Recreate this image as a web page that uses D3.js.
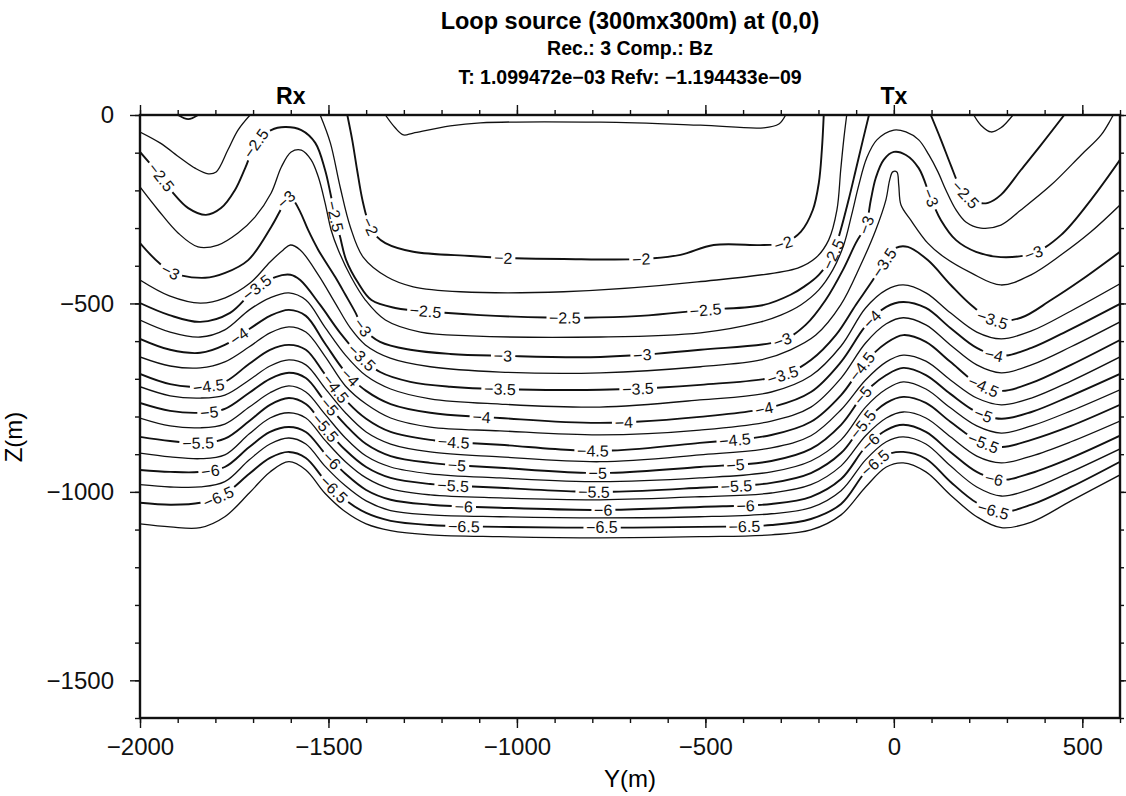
<!DOCTYPE html>
<html>
<head>
<meta charset="utf-8">
<script src="https://cdn.jsdelivr.net/npm/d3@7"></script>
<style>
  body { margin: 0; background: #fff; }
  svg { font-family: "Liberation Sans", Arial, Helvetica, sans-serif; }
</style>
</head>
<body>
<svg id="chart" width="1126" height="796"></svg>
<script>
// ---- contour traces, [Y (m), Z (m)] read off the section ----
// upper levels bend back on themselves, so they are traced point by point
const c175 = [[-1349,0],[-1323,-34],[-1301,-53],[-1275,-48],[-1177,-29],[-1097,-21],[-778,-19],[-513,-27],[-345,-34],[-305,-24],[-287,0]];
const c200 = [[-1450,0],[-1437,-66],[-1424,-146],[-1410,-225],[-1394,-284],[-1376,-318],[-1349,-340],[-1275,-363],[-1123,-374],[-1038,-379],[-876,-382],[-672,-382],[-566,-371],[-478,-345],[-345,-345],[-292,-340],[-247,-310],[-215,-252],[-199,-180],[-191,-93],[-186,0]];
const c200b = [[-1899,0],[-1872,-11],[-1846,0]];
const c225a = [[-2000,-45],[-1947,-74],[-1893,-114],[-1854,-141],[-1819,-156],[-1798,-151],[-1767,-93],[-1740,-40],[-1708,0]];
const c225b = [[-1522,0],[-1495,-74],[-1469,-191],[-1442,-297],[-1408,-377],[-1344,-430],[-1275,-456],[-1150,-469],[-876,-469],[-521,-443],[-255,-406],[-207,-379],[-173,-332],[-151,-252],[-141,-146],[-133,-66],[-125,0]];
const c225c = [[212,0],[231,-27],[258,-45],[284,-34],[316,0]];
const c250a = [[-2000,-98],[-1944,-164],[-1912,-207],[-1872,-247],[-1825,-265],[-1785,-247],[-1748,-199],[-1721,-141],[-1692,-74],[-1652,-40],[-1615,-32],[-1572,-40],[-1535,-74],[-1509,-146],[-1495,-207],[-1482,-271],[-1469,-324],[-1453,-385],[-1421,-446],[-1386,-491],[-1323,-512],[-1248,-520],[-1097,-531],[-871,-538],[-672,-533],[-499,-517],[-345,-504],[-274,-477],[-239,-456],[-199,-424],[-162,-371],[-141,-305],[-120,-225],[-101,-146],[-82,-66],[-66,0]];
const c250b = [[98,0],[125,-66],[151,-133],[173,-186],[191,-212],[218,-231],[250,-233],[284,-212],[337,-146],[390,-80],[452,0]];
const c275 = [[-2000,-191],[-1952,-252],[-1899,-313],[-1846,-350],[-1793,-345],[-1740,-313],[-1695,-271],[-1652,-207],[-1625,-138],[-1599,-98],[-1572,-93],[-1546,-119],[-1527,-164],[-1509,-233],[-1493,-305],[-1474,-358],[-1440,-430],[-1402,-491],[-1349,-544],[-1256,-576],[-1123,-586],[-778,-589],[-513,-578],[-353,-549],[-300,-531],[-247,-504],[-199,-464],[-162,-411],[-133,-345],[-112,-265],[-93,-186],[-72,-114],[-45,-66],[0,-40],[32,-45],[66,-66],[93,-106],[117,-151],[138,-199],[165,-252],[191,-284],[231,-300],[284,-292],[337,-252],[417,-186],[497,-106],[550,-53],[582,0]];
const c300 = [[-2000,-340],[-1918,-416],[-1827,-432],[-1774,-419],[-1713,-385],[-1652,-297],[-1620,-239],[-1607,-218],[-1594,-225],[-1575,-257],[-1554,-305],[-1527,-358],[-1482,-430],[-1455,-477],[-1429,-523],[-1408,-565],[-1363,-602],[-1283,-623],[-1177,-634],[-1038,-639],[-778,-642],[-513,-623],[-295,-597],[-234,-557],[-181,-491],[-135,-411],[-101,-340],[-74,-292],[-61,-225],[-48,-167],[-27,-119],[0,-98],[32,-106],[66,-141],[98,-220],[125,-279],[165,-332],[218,-363],[284,-377],[372,-366],[444,-318],[523,-225],[600,-119]];
const c325 = [[-2000,-438],[-1922,-480],[-1840,-499],[-1774,-485],[-1708,-446],[-1655,-390],[-1620,-358],[-1601,-345],[-1575,-358],[-1527,-424],[-1482,-499],[-1442,-565],[-1402,-610],[-1336,-645],[-1230,-668],[-1044,-682],[-778,-684],[-513,-668],[-353,-650],[-274,-623],[-207,-584],[-141,-504],[-88,-398],[-48,-305],[-21,-225],[-11,-172],[-3,-151],[8,-151],[13,-186],[19,-239],[45,-279],[90,-340],[133,-377],[205,-419],[284,-451],[364,-424],[444,-371],[523,-310],[600,-239]];
const c350 = [[-2000,-499],[-1922,-531],[-1840,-549],[-1761,-525],[-1692,-459],[-1641,-430],[-1601,-424],[-1575,-438],[-1522,-504],[-1469,-578],[-1413,-642],[-1363,-682],[-1283,-708],[-1177,-721],[-1044,-727],[-778,-729],[-513,-716],[-295,-690],[-220,-650],[-154,-584],[-101,-504],[-61,-446],[-27,-393],[5,-353],[37,-350],[90,-385],[151,-451],[205,-504],[266,-544],[337,-538],[417,-491],[497,-438],[600,-363]];

// deeper levels are single valued in Y: depth of each level at these Y columns
const yCols = [-2000,-1920,-1840,-1775,-1710,-1655,-1605,-1560,-1510,-1455,-1400,-1335,-1230,-1045,-780,-515,-325,-220,-140,-75,-20,25,85,150,220,285,365,470,600];
const z375 = [-544,-576,-589,-570,-517,-485,-472,-491,-562,-637,-692,-727,-753,-767,-775,-756,-735,-692,-613,-512,-464,-451,-472,-525,-576,-594,-573,-520,-448];
const z400 = [-594,-623,-631,-610,-568,-533,-517,-533,-605,-682,-732,-767,-790,-804,-817,-801,-775,-735,-655,-560,-509,-496,-512,-565,-618,-639,-618,-568,-501];
const z425 = [-642,-666,-671,-655,-615,-578,-562,-576,-639,-719,-767,-804,-828,-838,-849,-836,-812,-775,-698,-605,-554,-538,-557,-610,-663,-684,-663,-615,-549];
const z450 = [-687,-714,-721,-708,-660,-623,-610,-623,-687,-756,-806,-841,-862,-875,-891,-870,-849,-814,-743,-655,-605,-584,-602,-655,-711,-732,-711,-663,-597];
const z475 = [-721,-745,-751,-743,-703,-666,-650,-663,-724,-790,-841,-873,-894,-907,-920,-902,-883,-851,-782,-703,-655,-637,-653,-703,-751,-769,-751,-706,-642];
const z500 = [-764,-785,-790,-780,-737,-700,-684,-698,-759,-822,-873,-905,-923,-936,-950,-934,-918,-886,-822,-735,-690,-671,-690,-740,-788,-806,-788,-745,-687];
const z525 = [-804,-825,-830,-820,-775,-737,-719,-735,-793,-857,-905,-934,-952,-963,-973,-963,-947,-918,-862,-775,-727,-708,-727,-777,-825,-844,-825,-785,-729];
const z550 = [-854,-865,-870,-859,-812,-769,-751,-767,-828,-889,-934,-963,-979,-989,-1000,-989,-976,-950,-897,-812,-764,-748,-764,-814,-862,-881,-862,-825,-769];
const z575 = [-897,-907,-912,-902,-846,-804,-790,-804,-862,-920,-963,-992,-1008,-1016,-1021,-1013,-1003,-981,-931,-851,-804,-788,-804,-854,-905,-923,-905,-867,-812];
const z600 = [-942,-947,-947,-934,-881,-841,-828,-841,-897,-952,-995,-1021,-1034,-1042,-1048,-1040,-1032,-1013,-966,-881,-836,-822,-841,-894,-947,-968,-950,-910,-851];
const z625 = [-981,-987,-987,-973,-915,-873,-857,-873,-931,-984,-1024,-1050,-1061,-1066,-1069,-1066,-1058,-1042,-997,-915,-867,-854,-873,-931,-987,-1011,-992,-947,-886];
const z650 = [-1029,-1034,-1029,-1005,-952,-910,-894,-910,-968,-1021,-1056,-1077,-1088,-1093,-1095,-1093,-1088,-1072,-1032,-947,-902,-894,-912,-973,-1029,-1053,-1034,-987,-920];
const z675 = [-1085,-1093,-1095,-1066,-1003,-947,-920,-942,-1003,-1053,-1085,-1103,-1114,-1119,-1122,-1119,-1114,-1101,-1061,-987,-934,-923,-947,-1008,-1066,-1095,-1080,-1024,-955];

// where the annotations sit on each labelled level
const lab200 = [[-1384,-292],[-1038,-379],[-672,-382],[-292,-340]];
const lab250 = [[-1944,-164],[-1692,-74],[-1482,-271],[-1243,-520],[-871,-538],[-499,-517],[-162,-371],[191,-212]];
const lab300 = [[-1918,-416],[-1607,-225],[-1410,-562],[-1038,-639],[-667,-639],[-295,-597],[-74,-292],[98,-220],[372,-366]];
const lab350 = [[-1692,-456],[-1413,-642],[-1044,-727],[-677,-729],[-295,-690],[-27,-393],[263,-538]];
const lab400 = [[-1735,-589],[-1442,-695],[-1092,-804],[-717,-817],[-345,-777],[-61,-538],[266,-631]];
const lab450 = [[-1819,-721],[-1487,-729],[-1169,-870],[-797,-891],[-420,-857],[-82,-668],[236,-721]];
const lab500 = [[-1814,-793],[-1501,-775],[-1158,-934],[-786,-950],[-420,-923],[-82,-743],[236,-796]];
const lab550 = [[-1846,-870],[-1509,-830],[-1169,-987],[-797,-1000],[-420,-979],[-88,-817],[236,-870]];
const lab600 = [[-1814,-944],[-1490,-915],[-1142,-1042],[-770,-1048],[-393,-1034],[-66,-862],[266,-963]];
const lab650 = [[-1793,-1013],[-1487,-995],[-1142,-1093],[-773,-1096],[-398,-1093],[-56,-915],[266,-1048]];

// axis ticks
const xMajor = [-2000, -1500, -1000, -500, 0, 500];
const yMajor = [-1500, -1000, -500, 0];
const xMinor = d3.range(-2000, 601, 100);
const yMinor = d3.range(-1600, 1, 100);

// ---- build the level list ----
const colPts = zs => yCols.map((v, i) => [v, zs[i]]);
const contours = [
  {level: -1.75, pts: c175},
  {level: -2, pts: c200}, {level: -2, pts: c200b},
  {level: -2.25, pts: c225a}, {level: -2.25, pts: c225b}, {level: -2.25, pts: c225c},
  {level: -2.5, pts: c250a}, {level: -2.5, pts: c250b},
  {level: -2.75, pts: c275},
  {level: -3, pts: c300},
  {level: -3.25, pts: c325},
  {level: -3.5, pts: c350},
  {level: -3.75, pts: colPts(z375)},
  {level: -4, pts: colPts(z400)},
  {level: -4.25, pts: colPts(z425)},
  {level: -4.5, pts: colPts(z450)},
  {level: -4.75, pts: colPts(z475)},
  {level: -5, pts: colPts(z500)},
  {level: -5.25, pts: colPts(z525)},
  {level: -5.5, pts: colPts(z550)},
  {level: -5.75, pts: colPts(z575)},
  {level: -6, pts: colPts(z600)},
  {level: -6.25, pts: colPts(z625)},
  {level: -6.5, pts: colPts(z650)},
  {level: -6.75, pts: colPts(z675)}
];
const labels = [
  [-2, lab200], [-2.5, lab250], [-3, lab300], [-3.5, lab350], [-4, lab400],
  [-4.5, lab450], [-5, lab500], [-5.5, lab550], [-6, lab600], [-6.5, lab650]
];

// ---- scales ----
const plot = {left: 140, right: 1120, top: 115, bottom: 718};
const x = d3.scaleLinear().domain([-2000, 600]).range([plot.left, plot.right]);
const y = d3.scaleLinear().domain([-1600, 0]).range([plot.bottom, plot.top]);

const svg = d3.select('#chart');
svg.append('rect').attr('width', 1126).attr('height', 796).attr('fill', '#fff');

svg.append('defs').append('clipPath').attr('id', 'plotClip')
  .append('rect')
  .attr('x', plot.left).attr('y', plot.top)
  .attr('width', plot.right - plot.left).attr('height', plot.bottom - plot.top);

const lineGen = d3.line()
  .x(d => x(d[0]))
  .y(d => y(d[1]))
  .curve(d3.curveCatmullRom.alpha(0.5));

// contour lines
const gC = svg.append('g').attr('clip-path', 'url(#plotClip)');
const pieces = contours.map(c => {
  const major = Math.abs(c.level * 2 - Math.round(c.level * 2)) < 1e-6;
  const path = gC.append('path')
    .attr('d', lineGen(c.pts))
    .attr('fill', 'none')
    .attr('stroke', '#111')
    .attr('stroke-width', major ? 1.9 : 1.3)
    .attr('stroke-linejoin', 'round');
  const node = path.node();
  return {level: c.level, node: node, len: node.getTotalLength(), gaps: []};
});

// contour annotations, placed on the nearest point of their line
const fmtLevel = v => String(v).replace('-', '\u2212');
const gL = svg.append('g');
labels.forEach(([level, anchors]) => {
  anchors.forEach(([ay, az]) => {
    const tx = x(ay), ty = y(az);
    let best = null;
    pieces.filter(p => p.level === level).forEach(p => {
      for (let s = 0; s <= p.len; s += 1.5) {
        const pt = p.node.getPointAtLength(s);
        const d = (pt.x - tx) ** 2 + (pt.y - ty) ** 2;
        if (!best || d < best.d) best = {d: d, p: p, s: s, pt: pt};
      }
    });
    if (!best) return;
    const p = best.p, s = best.s;
    const a = p.node.getPointAtLength(Math.max(0, s - 6));
    const b = p.node.getPointAtLength(Math.min(p.len, s + 6));
    let ang = Math.atan2(b.y - a.y, b.x - a.x) * 180 / Math.PI;
    if (ang > 90) ang -= 180;
    if (ang < -90) ang += 180;
    const t = gL.append('text')
      .attr('transform', `translate(${best.pt.x},${best.pt.y}) rotate(${ang})`)
      .attr('text-anchor', 'middle')
      .attr('dy', '0.36em')
      .attr('fill', '#111')
      .style('font-size', '16px')
      .text(fmtLevel(level));
    const w = t.node().getComputedTextLength();
    p.gaps.push([s - w / 2 - 3, s + w / 2 + 3]);
  });
});

// cut gaps in the lines under the annotations
pieces.forEach(p => {
  if (!p.gaps.length) return;
  p.gaps.sort((u, v) => u[0] - v[0]);
  const arr = [];
  let pos = 0;
  p.gaps.forEach(([g0, g1]) => {
    const start = Math.max(g0, pos);
    arr.push(Math.max(0.01, start - pos), Math.max(0.01, g1 - start));
    pos = g1;
  });
  arr.push(p.len - pos + 20, 0);
  d3.select(p.node).attr('stroke-dasharray', arr.join(' '));
});

// ---- axes ----
function styleAxis(g) {
  g.select('.domain').remove();
  g.selectAll('line').attr('stroke', '#111').attr('stroke-width', 1.4);
  g.selectAll('text')
    .attr('fill', '#111')
    .style('font-family', '"Liberation Sans", Arial, sans-serif')
    .style('font-size', '24px');
}
const noLabel = () => '';
const intFmt = d3.format('d');

svg.append('g').attr('transform', `translate(0,${plot.bottom})`)
  .call(d3.axisBottom(x).tickValues(xMinor).tickSize(5).tickFormat(noLabel)).call(styleAxis);
svg.append('g').attr('transform', `translate(0,${plot.bottom})`)
  .call(d3.axisBottom(x).tickValues(xMajor).tickSize(10).tickPadding(10).tickFormat(intFmt)).call(styleAxis);

svg.append('g').attr('transform', `translate(0,${plot.top})`)
  .call(d3.axisTop(x).tickValues(xMinor).tickSize(5).tickFormat(noLabel)).call(styleAxis);
svg.append('g').attr('transform', `translate(0,${plot.top})`)
  .call(d3.axisTop(x).tickValues(xMajor).tickSize(10).tickFormat(noLabel)).call(styleAxis);

svg.append('g').attr('transform', `translate(${plot.left},0)`)
  .call(d3.axisLeft(y).tickValues(yMinor).tickSize(5).tickFormat(noLabel)).call(styleAxis);
svg.append('g').attr('transform', `translate(${plot.left},0)`)
  .call(d3.axisLeft(y).tickValues(yMajor).tickSize(10).tickPadding(16).tickFormat(intFmt)).call(styleAxis);

svg.append('g').attr('transform', `translate(${plot.right},0)`)
  .call(d3.axisRight(y).tickValues(yMinor).tickSize(4).tickFormat(noLabel)).call(styleAxis);
svg.append('g').attr('transform', `translate(${plot.right},0)`)
  .call(d3.axisRight(y).tickValues(yMajor).tickSize(8).tickFormat(noLabel)).call(styleAxis);

// frame
svg.append('rect')
  .attr('x', plot.left).attr('y', plot.top)
  .attr('width', plot.right - plot.left).attr('height', plot.bottom - plot.top)
  .attr('fill', 'none').attr('stroke', '#111').attr('stroke-width', 2.4);

// axis titles
svg.append('text')
  .attr('x', (plot.left + plot.right) / 2).attr('y', 787)
  .attr('text-anchor', 'middle')
  .style('font-size', '24px')
  .text('Y(m)');
svg.append('text')
  .attr('transform', `translate(22,${437}) rotate(-90)`)
  .attr('text-anchor', 'middle')
  .style('font-size', '24px')
  .text('Z(m)');

// transmitter / receiver markers
svg.append('text').attr('x', x(-1600)).attr('y', 104).attr('text-anchor', 'middle')
  .style('font-size', '23px').style('font-weight', 'bold').text('Rx');
svg.append('text').attr('x', x(0)).attr('y', 104).attr('text-anchor', 'middle')
  .style('font-size', '23px').style('font-weight', 'bold').text('Tx');

// title block
const cx = (plot.left + plot.right) / 2;
svg.append('text').attr('x', cx).attr('y', 29).attr('text-anchor', 'middle')
  .style('font-size', '23.5px').style('font-weight', 'bold')
  .text('Loop source (300mx300m) at (0,0)');
svg.append('text').attr('x', cx).attr('y', 55).attr('text-anchor', 'middle')
  .style('font-size', '19.5px').style('font-weight', 'bold')
  .text('Rec.: 3 Comp.: Bz');
svg.append('text').attr('x', cx).attr('y', 84).attr('text-anchor', 'middle')
  .style('font-size', '19.5px').style('font-weight', 'bold')
  .text('T: 1.099472e\u221203 Refv: \u22121.194433e\u221209');
</script>
</body>
</html>
